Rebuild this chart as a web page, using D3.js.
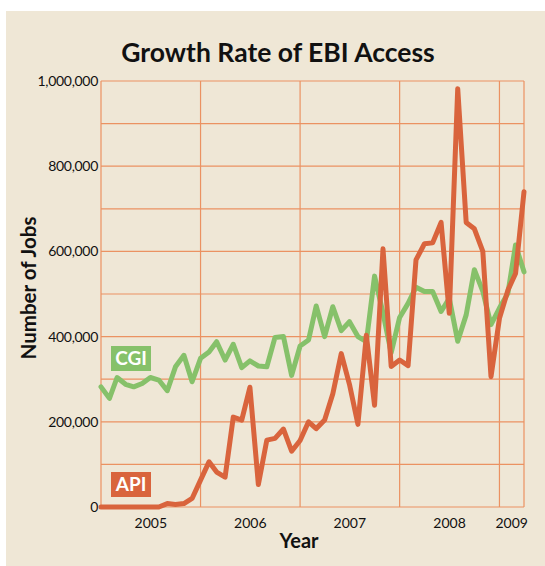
<!DOCTYPE html>
<html>
<head>
<meta charset="utf-8">
<script src="https://cdn.jsdelivr.net/npm/d3@7"></script>
<style>
  body { margin: 0; background: #fff; }
  text { font-family: Lato, "Open Sans", sans-serif; fill: #111; }
</style>
</head>
<body>
<svg id="chart" width="545" height="566"></svg>
<script>
// monthly jobs, Jan 2005 .. Apr 2009 (thousands)
let cgiJobs = [282, 255, 304, 288, 282, 290, 304, 298, 273, 329, 356, 294,
    349, 364, 388, 345, 382, 327, 343, 331, 329, 398, 400, 309,
    378, 392, 472, 400, 470, 414, 435, 400, 388, 542, 455, 362,
    445, 478, 516, 506, 506, 459, 490, 389, 451, 557, 506, 428,
    467, 502, 615, 552];
let apiJobs = [0, 0, 0, 0, 0, 0, 0, 0, 8, 6, 8, 20,
    63, 106, 82, 70, 211, 204, 281, 53, 157, 161, 183, 131,
    156, 200, 184, 204, 266, 360, 288, 194, 403, 239, 606, 330,
    345, 332, 580, 618, 620, 668, 455, 982, 668, 653, 600, 306,
    443, 509, 548, 740];
let years = [2005, 2006, 2007, 2008, 2009];
let yTicks = [0, 200000, 400000, 600000, 800000, 1000000];

let svg = d3.select("#chart");
let width = 545;
let height = 566;

let green = "#86c16a";
let orange = "#d9643d";
let gridColor = "#eb9262";

let months = d3.timeMonth.range(new Date(2005, 0, 1), new Date(2009, 4, 1));
let firstMonth = months[0];
let lastMonth = months[months.length - 1];

let x = d3.scaleTime()
    .domain([firstMonth, lastMonth])
    .range([101, 524]);
let y = d3.scaleLinear()
    .domain([0, 1000000])
    .range([507, 81]);

// panel
svg.append("rect")
    .attr("x", 6).attr("y", 11)
    .attr("width", width - 6).attr("height", height - 11)
    .attr("fill", "#efe7d6");

// horizontal grid every 100k
svg.append("g")
    .selectAll("line")
    .data(d3.range(0, 1000001, 100000))
    .enter()
    .append("line")
        .attr("x1", x(firstMonth)).attr("x2", x(lastMonth))
        .attr("y1", d => y(d)).attr("y2", d => y(d))
        .attr("stroke", gridColor)
        .attr("stroke-width", 1.2);

// vertical grid at year starts and plot edges
let vLines = [firstMonth].concat(years.slice(1).map(yr => new Date(yr, 0, 1)), [lastMonth]);
svg.append("g")
    .selectAll("line")
    .data(vLines)
    .enter()
    .append("line")
        .attr("x1", d => x(d)).attr("x2", d => x(d))
        .attr("y1", y(0)).attr("y2", y(1000000))
        .attr("stroke", gridColor)
        .attr("stroke-width", 1.2);

// y tick labels
svg.append("g")
    .selectAll("text")
    .data(yTicks)
    .enter()
    .append("text")
        .attr("x", 98)
        .attr("y", d => y(d))
        .attr("dy", "0.35em")
        .attr("text-anchor", "end")
        .attr("font-size", 14)
        .attr("letter-spacing", -0.3)
        .text(d3.format(","));

// year labels centred in each year band
svg.append("g")
    .selectAll("text")
    .data(years)
    .enter()
    .append("text")
        .attr("x", yr => {
            let a = new Date(yr, 0, 1);
            let b = yr == 2009 ? lastMonth : new Date(yr + 1, 0, 1);
            return (x(a) + x(b)) / 2;
        })
        .attr("y", 528)
        .attr("text-anchor", "middle")
        .attr("font-size", 14)
        .text(d => d);

// series lines
let line = d3.line()
    .x((d, i) => x(months[i]))
    .y(d => y(d * 1000));

svg.append("path")
    .datum(cgiJobs)
    .attr("d", line)
    .attr("fill", "none")
    .attr("stroke", green)
    .attr("stroke-width", 5)
    .attr("stroke-linejoin", "round")
    .attr("stroke-linecap", "round");

svg.append("path")
    .datum(apiJobs)
    .attr("d", line)
    .attr("fill", "none")
    .attr("stroke", orange)
    .attr("stroke-width", 5)
    .attr("stroke-linejoin", "round")
    .attr("stroke-linecap", "round");

// legend tags
let tags = [
    { name: "CGI", color: green, top: 346 },
    { name: "API", color: orange, top: 472 }
];
let tag = svg.append("g")
    .selectAll("g")
    .data(tags)
    .enter()
    .append("g");
tag.append("rect")
    .attr("x", 111).attr("y", d => d.top)
    .attr("width", 40).attr("height", 25)
    .attr("fill", d => d.color);
tag.append("text")
    .attr("x", 131).attr("y", d => d.top + 19)
    .attr("text-anchor", "middle")
    .attr("font-size", 19)
    .attr("font-weight", "bold")
    .style("fill", "#fff")
    .text(d => d.name);

// titles
svg.append("text")
    .attr("x", 278).attr("y", 62)
    .attr("text-anchor", "middle")
    .attr("font-size", 26.5)
    .attr("font-weight", "bold")
    .text("Growth Rate of EBI Access");

svg.append("text")
    .attr("x", 299).attr("y", 548)
    .attr("text-anchor", "middle")
    .attr("font-size", 20)
    .attr("font-weight", "bold")
    .text("Year");

svg.append("text")
    .attr("transform", "translate(36,288) rotate(-90)")
    .attr("text-anchor", "middle")
    .attr("font-size", 20.5)
    .attr("font-weight", "bold")
    .text("Number of Jobs");
</script>
</body>
</html>
